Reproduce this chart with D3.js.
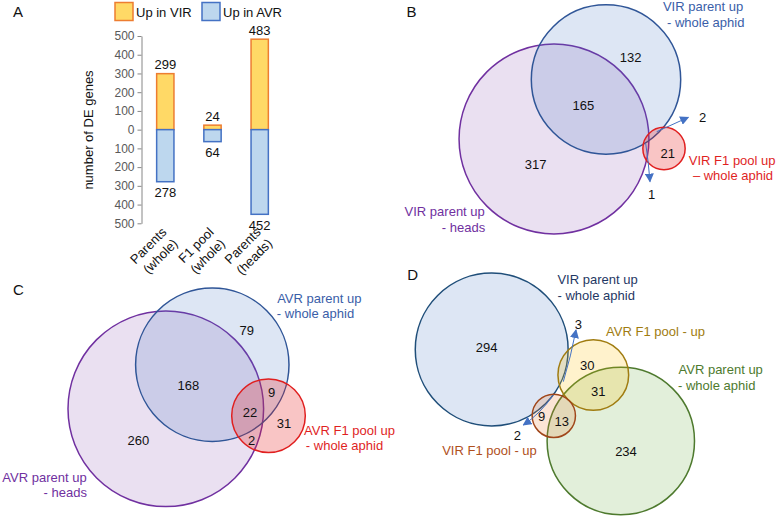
<!DOCTYPE html>
<html><head><meta charset="utf-8">
<script src="https://cdn.jsdelivr.net/npm/d3@7"></script>
<style>
html,body{margin:0;padding:0;background:#fff;}
svg{display:block;font-family:"Liberation Sans",Arial,sans-serif;}
</style></head>
<body>
<svg id="chart" width="777" height="516"></svg>
<script>
// ---------- Panel A data ----------
const barCategories = [["Parents","(whole)"],["F1 pool","(whole)"],["Parents","(heads)"]];
const upInVIR = [299, 24, 483];
const upInAVR = [278, 64, 452];
const yTickValues = [-500,-400,-300,-200,-100,0,100,200,300,400,500];
const legendLabels = ["Up in VIR","Up in AVR"];

// ---------- Panel B data ----------
const setsB = ["VIR parent up - whole aphid","VIR parent up - heads","VIR F1 pool up - whole aphid"];
const setSizesB = [299, 483, 24];
const regionCountsB = [132, 165, 317, 21, 2, 1];

// ---------- Panel C data ----------
const setsC = ["AVR parent up - whole aphid","AVR parent up - heads","AVR F1 pool up - whole aphid"];
const setSizesC = [278, 452, 64];
const regionCountsC = [79, 168, 9, 22, 31, 2, 260];

// ---------- Panel D data ----------
const setsD = ["VIR parent up - whole aphid","AVR F1 pool - up","AVR parent up - whole aphid","VIR F1 pool - up"];
const setSizesD = [299, 64, 278, 24];
const regionCountsD = [294, 30, 31, 9, 13, 234, 3, 2];

// ---------- layout (positions/styles, not data) ----------
const FONT = 13;
const svg = d3.select("#chart");

// ===== Panel A =====
const yA = d3.scaleLinear().domain([-500,500]).range([223.3,36]);
const xA = d3.scalePoint().domain(d3.range(barCategories.length)).range([165.3,259.7]);
const barW = 17.3;
const gA = svg.append("g");

gA.append("text").attr("x",13).attr("y",17).attr("font-size",15).attr("fill","#111").text("A");

const yAxis = d3.axisLeft(yA).tickValues(yTickValues).tickSize(4).tickSizeOuter(0).tickPadding(3)
  .tickFormat(d=>Math.abs(d));
const ag = gA.append("g").attr("transform","translate(141.5,0)").call(yAxis);
ag.select(".domain").attr("stroke","#868686");
ag.selectAll(".tick line").attr("stroke","#868686");
ag.selectAll(".tick text").attr("fill","#595959").attr("font-size",12).attr("font-family","Liberation Sans, Arial, sans-serif");

gA.append("text").attr("transform","translate(93,130) rotate(-90)").attr("text-anchor","middle")
  .attr("font-size",FONT).attr("fill","#111").text("number of DE genes");

const bars = gA.selectAll(".bar").data(barCategories.map((c,i)=>({i,up:upInVIR[i],down:upInAVR[i]}))).join("g");
bars.append("rect").attr("x",d=>xA(d.i)-barW/2).attr("width",barW)
  .attr("y",d=>yA(d.up)).attr("height",d=>yA(0)-yA(d.up))
  .attr("fill","#ffd966").attr("stroke","#ed7d31").attr("stroke-width",1.5);
bars.append("rect").attr("x",d=>xA(d.i)-barW/2).attr("width",barW)
  .attr("y",yA(0)).attr("height",d=>yA(-d.down)-yA(0))
  .attr("fill","#bdd7ee").attr("stroke","#4472c4").attr("stroke-width",1.5);
bars.append("text").attr("x",d=>xA(d.i)).attr("y",d=>yA(d.up)-4.5).attr("text-anchor","middle")
  .attr("font-size",FONT).attr("fill","#111").text(d=>d.up);
bars.append("text").attr("x",d=>xA(d.i)).attr("y",d=>yA(-d.down)+15.5).attr("text-anchor","middle")
  .attr("font-size",FONT).attr("fill","#111").text(d=>d.down);

// x labels rotated
barCategories.forEach((lines,i)=>{
  const t = gA.append("text").attr("transform",`translate(${xA(i)+2},233) rotate(-45)`)
    .attr("text-anchor","end").attr("font-size",FONT).attr("fill","#111");
  lines.forEach((l,k)=>t.append("tspan").attr("x",0).attr("y",k*16).text(l));
});

// legend
const legendStyle = [{fill:"#ffd966",stroke:"#ed7d31",x:115},{fill:"#bdd7ee",stroke:"#4472c4",x:202}];
legendLabels.forEach((l,i)=>{
  const s = legendStyle[i];
  gA.append("rect").attr("x",s.x).attr("y",2.5).attr("width",18).attr("height",18)
    .attr("fill",s.fill).attr("stroke",s.stroke).attr("stroke-width",1.5);
  gA.append("text").attr("x",s.x+21).attr("y",17).attr("font-size",FONT).attr("fill","#111").text(l);
});

// ===== Venn helper =====
svg.append("defs").append("marker").attr("id","arr").attr("viewBox","0 0 10 10")
  .attr("refX",9).attr("refY",5).attr("markerWidth",9).attr("markerHeight",9)
  .attr("orient","auto-start-reverse").append("path").attr("d","M0,0 L10,5 L0,10 z").attr("fill","#4472c4");

function venn(cfg){
  const g = svg.append("g");
  g.append("text").attr("x",cfg.letter[1]).attr("y",cfg.letter[2]).attr("font-size",15).attr("fill","#111").text(cfg.letter[0]);
  const r = d3.scaleSqrt().domain([0,1]).range([0,cfg.k]);
  cfg.order.forEach(i=>{
    const c = cfg.circles[i];
    g.append("circle").attr("cx",c.cx).attr("cy",c.cy).attr("r",r(cfg.sizes[i]))
      .attr("fill",c.fill).attr("fill-opacity",c.op).attr("stroke",c.stroke).attr("stroke-width",1.5);
  });
  cfg.arrows.forEach(a=>{
    g.append("path").attr("d",a).attr("fill","none").attr("stroke","#4472c4").attr("stroke-width",1)
      .attr("marker-end","url(#arr)");
  });
  cfg.counts.forEach((v,i)=>{
    const p = cfg.countPos[i];
    g.append("text").attr("x",p[0]).attr("y",p[1]).attr("dy","0.36em").attr("text-anchor","middle")
      .attr("font-size",FONT).attr("fill","#111").text(v);
  });
  cfg.labels.forEach(L=>{
    L.lines.forEach((ln,k)=>{
      g.append("text").attr("x",ln[1]).attr("y",ln[2]).attr("dy","0.36em").attr("text-anchor","middle")
        .attr("font-size",FONT).attr("fill",L.color).text(ln[0]);
    });
  });
}

// Panel B
venn({
  letter:["B",406.5,17], k:4.32, sizes:setSizesB, order:[1,0,2],
  circles:[
    {cx:606,cy:79.5,fill:"#4472c4",op:0.18,stroke:"#2f5597"},
    {cx:554,cy:139,fill:"#7030a0",op:0.15,stroke:"#7030a0"},
    {cx:664,cy:148.5,fill:"#e62020",op:0.26,stroke:"#e01f1f"}
  ],
  counts:regionCountsB,
  countPos:[[630.7,57.3],[583.3,105.3],[535.7,164],[667.7,153.3],[702.7,117.3],[651.7,194.3]],
  arrows:["M656.7,131.7 L688.3,117.3","M645.7,143.3 Q648.5,162 650,181.7"],
  labels:[
    {color:"#3a5ea8",lines:[[setsB[0].split(" - ")[0],703,6.7],["- "+setsB[0].split(" - ")[1],705.7,22.7]]},
    {color:"#7030a0",lines:[[setsB[1].split(" - ")[0],444.7,211],["- "+setsB[1].split(" - ")[1],463.5,227.7]]},
    {color:"#e01f1f",lines:[[setsB[2].split(" - ")[0],732.2,160.7],["\u2013 "+setsB[2].split(" - ")[1],733,175.7]]}
  ]
});

// Panel C
venn({
  letter:["C",13,295], k:4.6, sizes:setSizesC, order:[1,0,2],
  circles:[
    {cx:212.3,cy:364.7,fill:"#4472c4",op:0.18,stroke:"#2f5597"},
    {cx:165.8,cy:408.8,fill:"#7030a0",op:0.15,stroke:"#7030a0"},
    {cx:268.5,cy:415.7,fill:"#e62020",op:0.26,stroke:"#e01f1f"}
  ],
  counts:regionCountsC,
  countPos:[[246.7,330],[188.3,385],[271.7,392.7],[250,412.3],[284,423.3],[251.7,440],[138.3,440]],
  arrows:[],
  labels:[
    {color:"#3a5ea8",lines:[[setsC[0].split(" - ")[0],319.3,298.3],["- "+setsC[0].split(" - ")[1],315.5,313.3]]},
    {color:"#7030a0",lines:[[setsC[1].split(" - ")[0],44.5,477.3],["- "+setsC[1].split(" - ")[1],65.3,492.3]]},
    {color:"#e01f1f",lines:[[setsC[2].split(" - ")[0],349.5,430.7],["- "+setsC[2].split(" - ")[1],344.5,445.7]]}
  ]
});

// Panel D
venn({
  letter:["D",407.3,280], k:4.42, sizes:setSizesD, order:[0,2,1,3],
  circles:[
    {cx:491.7,cy:349.5,fill:"#4472c4",op:0.18,stroke:"#1f4e79"},
    {cx:593.3,cy:375,fill:"#ffc000",op:0.2,stroke:"#a07c10"},
    {cx:620.8,cy:441,fill:"#70ad47",op:0.2,stroke:"#4e7a2e"},
    {cx:553.8,cy:415.8,fill:"#ed7d31",op:0.2,stroke:"#a0461a"}
  ],
  counts:regionCountsD,
  countPos:[[486.7,347.7],[587.3,365],[598.3,391.7],[541.7,416.7],[561.7,421],[626,451],[578.3,324],[517.3,435]],
  arrows:["M563.3,381.7 Q571,356 576,330","M553.3,395 Q540,414 523.3,425"],
  labels:[
    {color:"#1f3864",lines:[["VIR parent up",597.5,279.3],["- whole aphid",596.2,295]]},
    {color:"#a07c10",lines:[[setsD[1],655.5,331]]},
    {color:"#4e7a2e",lines:[["AVR parent up",720.7,369.3],["- whole aphid",716.7,385]]},
    {color:"#b0501c",lines:[[setsD[3],489.5,450.7]]}
  ]
});
</script>
</body></html>
